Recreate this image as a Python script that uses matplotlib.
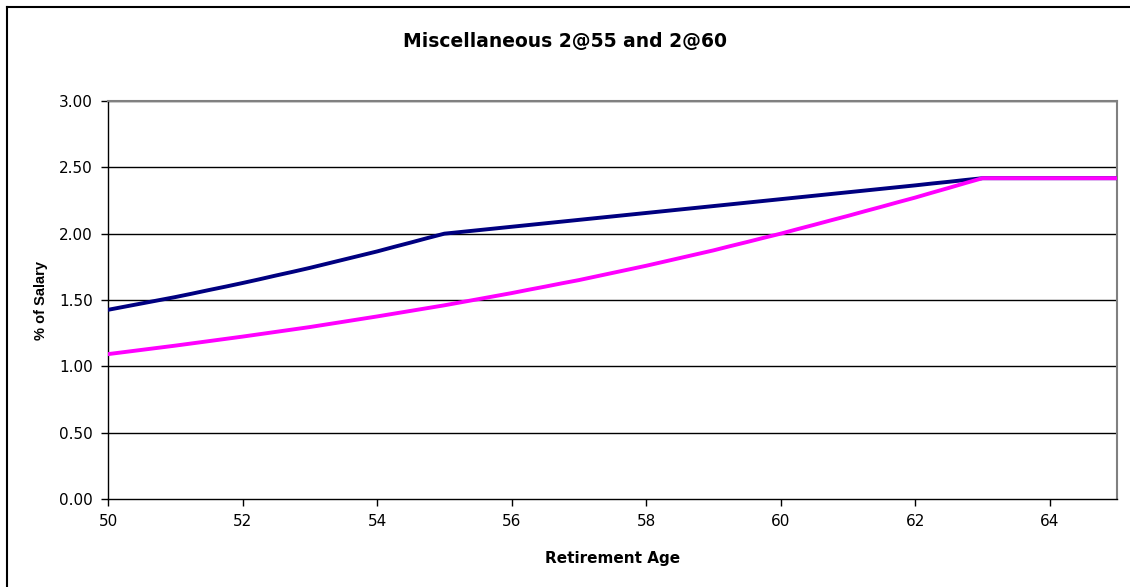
import numpy as np
import matplotlib
matplotlib.use("Agg")
import matplotlib.pyplot as plt
from matplotlib.lines import Line2D

plt.rcParams["font.family"] = ["DejaVu Sans"]

# retirement age, quarter-year steps
ages = np.arange(50, 65.01, 0.25)

# 2@55 benefit factor (% of salary)
misc_2at55 = [
    1.426, 1.450, 1.474, 1.498, 1.522, 1.548, 1.575, 1.601,
    1.628, 1.656, 1.685, 1.713, 1.742, 1.773, 1.804, 1.835,
    1.866, 1.900, 1.933, 1.967, 2.000, 2.013, 2.026, 2.039,
    2.052, 2.065, 2.078, 2.091, 2.104, 2.117, 2.130, 2.143,
    2.156, 2.169, 2.182, 2.195, 2.208, 2.221, 2.234, 2.247,
    2.260, 2.273, 2.286, 2.299, 2.312, 2.325, 2.338, 2.351,
    2.364, 2.378, 2.391, 2.405, 2.418,
    2.418, 2.418, 2.418, 2.418, 2.418, 2.418, 2.418, 2.418,
]

# 2@60 benefit factor (% of salary)
misc_2at60 = [
    1.092, 1.108, 1.124, 1.140, 1.156, 1.173, 1.190, 1.207,
    1.224, 1.242, 1.260, 1.278, 1.296, 1.316, 1.336, 1.356,
    1.376, 1.397, 1.418, 1.439, 1.460, 1.483, 1.506, 1.529,
    1.552, 1.577, 1.601, 1.626, 1.650, 1.677, 1.704, 1.731,
    1.758, 1.787, 1.816, 1.845, 1.874, 1.906, 1.937, 1.969,
    2.000, 2.034, 2.067, 2.101, 2.134, 2.169, 2.203, 2.238,
    2.272, 2.309, 2.345, 2.382, 2.418,
    2.418, 2.418, 2.418, 2.418, 2.418, 2.418, 2.418, 2.418,
]

x_ticks = [50, 52, 54, 56, 58, 60, 62, 64]
y_ticks = [0.0, 0.5, 1.0, 1.5, 2.0, 2.5, 3.0]

W, H = 1130, 587
fig = plt.figure(figsize=(W / 100, H / 100), dpi=100)
ax = fig.add_axes([108 / W, 1 - 499 / H, (1117 - 108) / W, (499 - 101) / H])

for y in y_ticks[1:]:
    ax.axhline(y, color="black", lw=1.0, zorder=1)

ax.plot(ages, misc_2at55, color="#000080", lw=2.8, zorder=3)
ax.plot(ages, misc_2at60, color="#FF00FF", lw=2.8, zorder=4)

ax.set_xlim(50, 65)
ax.set_ylim(0, 3)
ax.set_xticks(x_ticks)
ax.set_yticks(y_ticks)
ax.set_yticklabels([f"{v:.2f}" for v in y_ticks])
ax.tick_params(direction="out", length=5, width=1, labelsize=11, pad=6)

for side in ("left", "bottom"):
    ax.spines[side].set_color("black")
    ax.spines[side].set_linewidth(1.0)
for side in ("top", "right"):
    ax.spines[side].set_color("#808080")
    ax.spines[side].set_linewidth(1.5)

ax.set_xlabel("Retirement Age", fontsize=11, fontweight="bold", labelpad=16)
ax.set_ylabel("% of Salary", fontsize=10.5, fontweight="bold", labelpad=8,
              family="Liberation Sans")
fig.text(0.5, 1 - 42 / H, "Miscellaneous 2@55 and 2@60", ha="center", va="center",
         fontsize=13.5, fontweight="bold")

# outer chart frame
fig.add_artist(Line2D([7 / W, 1.0], [1 - 7 / H, 1 - 7 / H], transform=fig.transFigure,
                      color="black", lw=1.5))
fig.add_artist(Line2D([7 / W, 7 / W], [0.0, 1 - 7 / H], transform=fig.transFigure,
                      color="black", lw=1.5))

fig.savefig("out.png", dpi=100)
